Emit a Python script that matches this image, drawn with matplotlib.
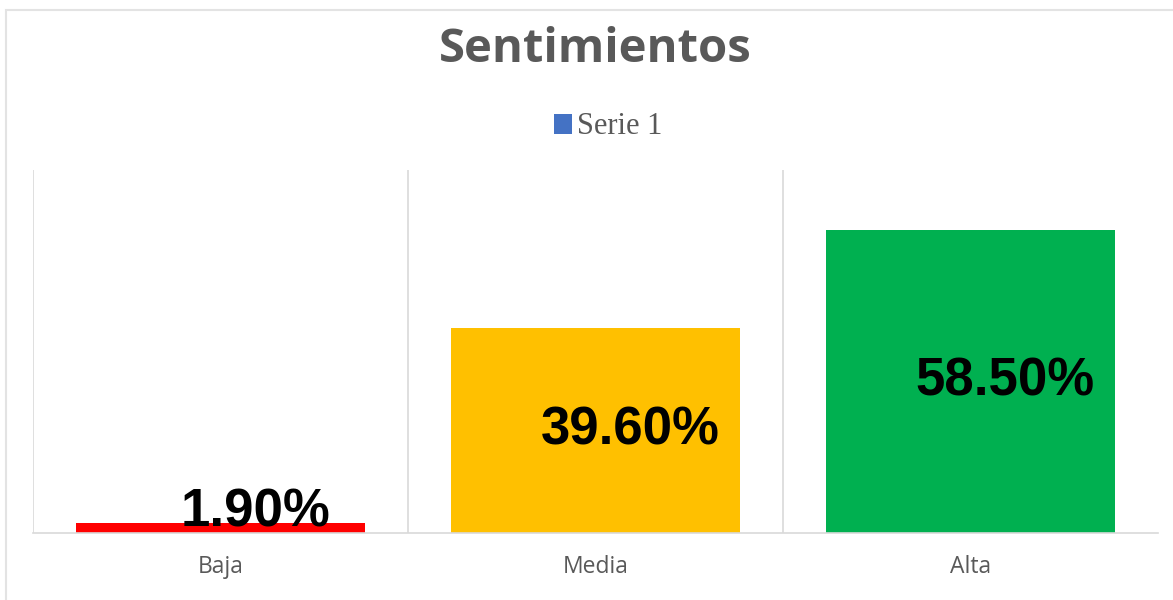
"""
Sentimientos - bar chart (Serie 1)
"""

import matplotlib

matplotlib.use("Agg")
import matplotlib.pyplot as plt
from matplotlib.patches import Patch, Rectangle

# data
categories = ["Baja", "Media", "Alta"]
values = [1.9, 39.6, 58.5]  # percent
labels = ["1.90%", "39.60%", "58.50%"]
bar_colors = ["#FF0000", "#FFC000", "#00B050"]
series_name = "Serie 1"
title = "Sentimientos"

W, H = 1173, 600
fig = plt.figure(figsize=(W / 100, H / 100), dpi=100)

# light chart frame (only top/left edges visible in the reference)
fig.patches.append(Rectangle((6 / W, -0.1), 1.2, 1 - 10 / H + 0.1, transform=fig.transFigure,
                             fill=False, edgecolor="#E3E3E3", linewidth=1.5))

ax = fig.add_axes([33 / W, 67 / H, 1125 / W, 363 / H])
x = range(len(categories))
ax.bar(x, values, width=0.773, color=bar_colors, zorder=2)
ax.set_xlim(-0.5, 2.5)
ax.set_ylim(0, 70)

# category separators
for b in [-0.5, 0.5, 1.5]:
    ax.axvline(b, color="#D9D9D9", linewidth=1.2, zorder=1)

for s in ["top", "right", "left"]:
    ax.spines[s].set_visible(False)
ax.spines["bottom"].set_color("#D9D9D9")
ax.spines["bottom"].set_linewidth(1.2)
ax.set_yticks([])
ax.set_xticks(list(x))
ax.set_xticklabels(categories, fontsize=16.5, color="#595959", family="Open Sans")
ax.tick_params(axis="x", length=0, pad=16)

# data labels, shifted right of bar centre like the original
for i, (v, lab) in enumerate(zip(values, labels)):
    ax.text(i + 0.093, max(v / 2, 4.0), lab, ha="center", va="center",
            fontsize=38, fontweight="bold", color="black",
            family="Liberation Sans", zorder=3)

fig.text(595 / W, 1 - 50 / H, title, ha="center", va="center",
         fontsize=34, fontweight="bold", color="#595959", family="Open Sans")

handle = Patch(facecolor="#4472C4", edgecolor="none")
fig.legend([handle], [series_name], loc="center", bbox_to_anchor=(608 / W, 1 - 127 / H),
           frameon=False, prop={"family": "Liberation Serif", "size": 22},
           handlelength=0.62, handleheight=0.62, handletextpad=0.15, labelcolor="#595959")

fig.savefig("out.png", dpi=100, facecolor="white")
